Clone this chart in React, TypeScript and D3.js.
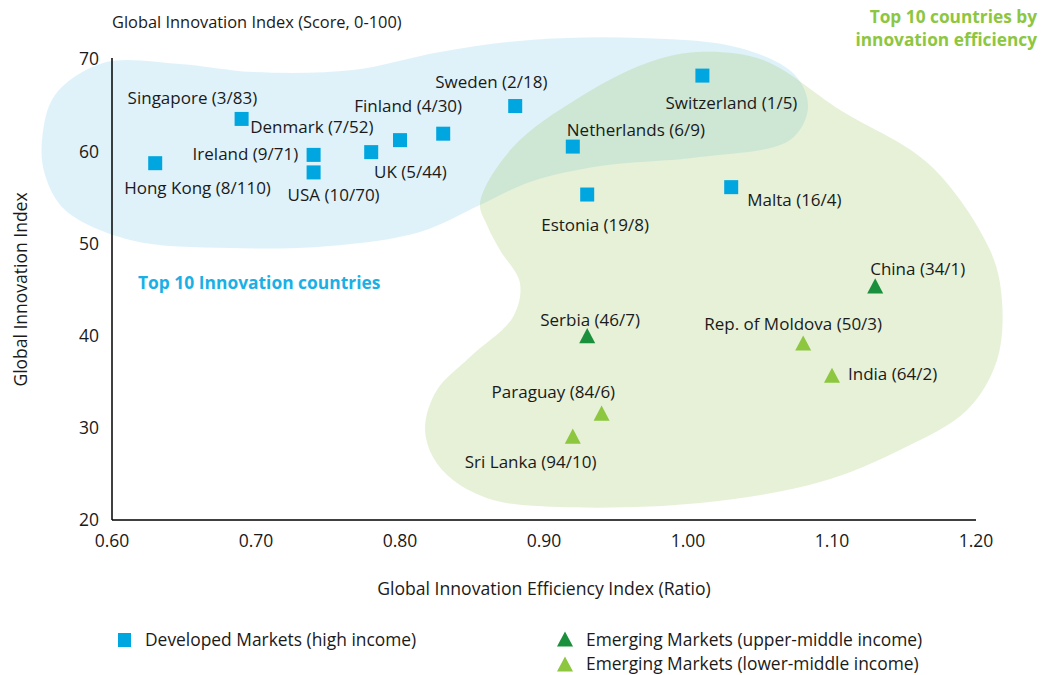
import React from "react";
import * as d3 from "d3";

const W = 1051;
const H = 675;

// ---- data ----
const countries = [
  "Singapore", "Denmark", "Ireland", "Hong Kong", "USA", "UK", "Finland", "Sweden",
  "Netherlands", "Switzerland", "Estonia", "Malta",
  "China", "Serbia", "Rep. of Moldova", "India", "Paraguay", "Sri Lanka",
];
const ranks = [
  "3/83", "7/52", "9/71", "8/110", "10/70", "5/44", "4/30", "2/18",
  "6/9", "1/5", "19/8", "16/4",
  "34/1", "46/7", "50/3", "64/2", "84/6", "94/10",
];
const efficiency = [
  0.69, 0.78, 0.74, 0.63, 0.74, 0.80, 0.83, 0.88,
  0.92, 1.01, 0.93, 1.03,
  1.13, 0.93, 1.08, 1.10, 0.94, 0.92,
];
const scores = [
  63.5, 59.9, 59.6, 58.7, 57.7, 61.2, 61.9, 64.9,
  60.5, 68.2, 55.3, 56.1,
  45.4, 40.0, 39.2, 35.7, 31.6, 29.1,
];
const groups = [
  "dev", "dev", "dev", "dev", "dev", "dev", "dev", "dev",
  "dev", "dev", "dev", "dev",
  "upper", "upper", "lower", "lower", "lower", "lower",
];

const xTicks = [0.6, 0.7, 0.8, 0.9, 1.0, 1.1, 1.2];
const yTicks = [20, 30, 40, 50, 60, 70];

// outlines of the highlighted groups (data units: efficiency, score)
const innovationBlob: [number, number][] = [
  [0.5514, 61.2], [0.5604, 66.1], [0.5938, 69.57], [0.6472, 69.46], [0.6979, 68.59],
  [0.7674, 68.81], [0.8278, 70.76], [0.8903, 72.06], [0.9667, 72.28], [1.0361, 71.19],
  [1.0743, 68.26], [1.0833, 64.69], [1.0708, 61.21], [1.0083, 59.37], [0.9389, 58.39],
  [0.8903, 56.66], [0.8556, 54.16], [0.8139, 51.24], [0.7514, 49.72], [0.6819, 49.5],
  [0.6125, 50.37], [0.5674, 53.62], [0.5535, 57.42],
];
const efficiencyBlob: [number, number][] = [
  [0.8604, 52.0], [0.8556, 54.38], [0.8785, 60.46], [0.925, 65.88], [0.9715, 69.57],
  [1.0063, 70.76], [1.0521, 69.89], [1.1056, 64.47], [1.168, 58.5], [1.2097, 49.28],
  [1.218, 43.86], [1.2146, 37.35], [1.1938, 31.93], [1.1472, 27.59], [1.0917, 24.12],
  [1.0083, 21.84], [0.9111, 21.41], [0.8646, 22.17], [0.8368, 24.34], [0.8229, 26.83],
  [0.8174, 30.09], [0.8257, 34.1], [0.8486, 37.68], [0.8785, 42.02], [0.8833, 45.7],
  [0.8694, 49.28],
];

// label placement relative to marker (layout)
const labelOffsets: [number, number][] = [
  [-114, -15], [-121, -19], [-121, 5], [-31, 31], [-26, 29], [-26, 38], [-89, -22], [-80, -18],
  [-6, -11], [-37, 33], [-46, 36], [16, 19],
  [-5, -11], [-47, -10], [-99, -13], [16, 5], [-110, -15], [-108, 32],
];

const FONT = "'Open Sans', 'Noto Sans', sans-serif";
const TEXT = "#1a1a1a";
const BLUE = "#00a6e0";
const DARK_GREEN = "#1a8f3c";
const LIGHT_GREEN = "#8dc63f";

const colorOf = (g: string) => (g === "dev" ? BLUE : g === "upper" ? DARK_GREEN : LIGHT_GREEN);

function Triangle({ cx, cy, s, fill }: { cx: number; cy: number; s: number; fill: string }) {
  const h = s * 0.95;
  const d = `M${cx},${cy - h / 2}L${cx + s / 2},${cy + h / 2}L${cx - s / 2},${cy + h / 2}Z`;
  return <path d={d} fill={fill} />;
}

export default function App() {
  const x = d3.scaleLinear().domain([0.6, 1.2]).range([112, 976]);
  const y = d3.scaleLinear().domain([20, 70]).range([520, 59]);

  const blob = d3
    .line<[number, number]>()
    .x((d) => x(d[0]))
    .y((d) => y(d[1]))
    .curve(d3.curveCatmullRomClosed.alpha(0.5));

  const sq = 14;

  return (
    <svg
      width={W}
      height={H}
      style={{ position: "absolute", left: 0, top: 0, background: "#fff" }}
      fontFamily={FONT}
    >
      <path d={blob(innovationBlob) || ""} fill="#7bc7ea" fillOpacity={0.24} />
      <path d={blob(efficiencyBlob) || ""} fill="#97c45a" fillOpacity={0.24} />

      {/* axes */}
      <line x1={x(0.6)} x2={x(1.2)} y1={y(20)} y2={y(20)} stroke="#000" strokeWidth={1.5} />
      <line x1={x(0.6)} x2={x(0.6)} y1={y(20)} y2={y(70) - 1} stroke="#000" strokeWidth={1.5} />

      {yTicks.map((t) => (
        <text key={"y" + t} x={99} y={y(t)} dy="0.36em" textAnchor="end" fontSize={17.5} fill={TEXT}>
          {t}
        </text>
      ))}
      {xTicks.map((t) => (
        <text key={"x" + t} x={x(t)} y={541} dy="0.36em" textAnchor="middle" fontSize={17.5} fill={TEXT}>
          {t.toFixed(2)}
        </text>
      ))}

      {/* titles */}
      <text x={112} y={28} fontSize={16.4} fill={TEXT}>
        Global Innovation Index (Score, 0-100)
      </text>
      <text x={(x(0.6) + x(1.2)) / 2} y={595} textAnchor="middle" fontSize={17.6} fill={TEXT}>
        Global Innovation Efficiency Index (Ratio)
      </text>
      <text
        transform={`translate(27,${(y(20) + y(70)) / 2}) rotate(-90)`}
        textAnchor="middle"
        fontSize={17.5}
        fill={TEXT}
      >
        Global Innovation Index
      </text>

      {/* annotations */}
      <text x={138} y={289} fontSize={17.4} fontWeight={700} fill="#1ab0e6">
        Top 10 Innovation countries
      </text>
      <text x={1037} y={23} textAnchor="end" fontSize={17.3} fontWeight={700} fill={LIGHT_GREEN}>
        Top 10 countries by
      </text>
      <text x={1037} y={46} textAnchor="end" fontSize={17.3} fontWeight={700} fill={LIGHT_GREEN}>
        innovation efficiency
      </text>

      {/* markers */}
      {countries.map((c, i) => {
        const cx = x(efficiency[i]);
        const cy = y(scores[i]);
        const g = groups[i];
        return g === "dev" ? (
          <rect key={c} x={cx - sq / 2} y={cy - sq / 2} width={sq} height={sq} fill={colorOf(g)} />
        ) : (
          <Triangle key={c} cx={cx} cy={cy} s={16} fill={colorOf(g)} />
        );
      })}

      {/* labels */}
      {countries.map((c, i) => (
        <text
          key={"l" + c}
          x={x(efficiency[i]) + labelOffsets[i][0]}
          y={y(scores[i]) + labelOffsets[i][1]}
          fontSize={17}
          fill={TEXT}
        >
          {`${c} (${ranks[i]})`}
        </text>
      ))}

      {/* legend */}
      <rect x={118} y={633} width={13} height={14} fill={BLUE} />
      <text x={145} y={646} fontSize={17.4} fill={TEXT}>
        Developed Markets (high income)
      </text>
      <Triangle cx={565} cy={639} s={16} fill={DARK_GREEN} />
      <text x={586} y={646} fontSize={17.4} fill={TEXT}>
        Emerging Markets (upper-middle income)
      </text>
      <Triangle cx={565} cy={664} s={16} fill={LIGHT_GREEN} />
      <text x={586} y={670} fontSize={17.4} fill={TEXT}>
        Emerging Markets (lower-middle income)
      </text>
    </svg>
  );
}
